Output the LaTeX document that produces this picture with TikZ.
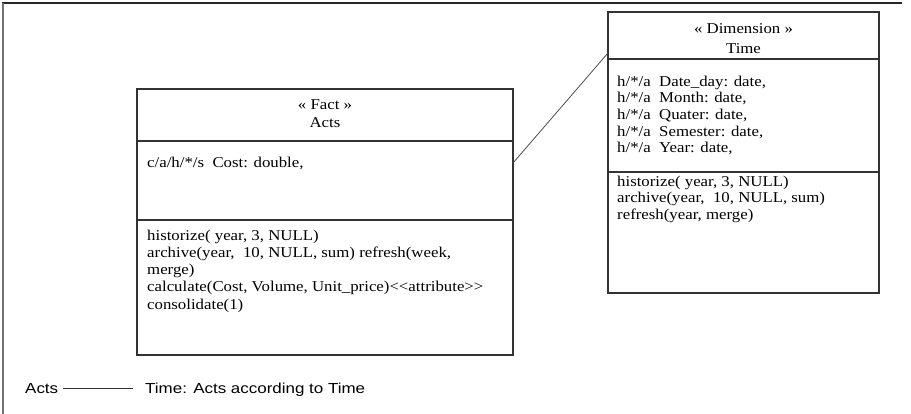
\documentclass[tikz,border=0pt]{standalone}
\usepackage{fontspec}
\setmainfont{Liberation Serif}
\newfontfamily\arialf{Liberation Sans}
\newcommand\sx[1]{\scalebox{1.12}[1]{#1}}
\newcommand\sy[1]{\scalebox{1.17}[1]{#1}}
\begin{document}
\begin{tikzpicture}[x=1pt,y=-1pt,
  boxline/.style={draw=black!80, line width=1.3pt},
  umlbox/.style={boxline, rectangle, inner sep=0pt, outer sep=0pt, anchor=north west},
  txt/.style={anchor=base west, inner sep=0pt, font=\fontsize{15}{18}\selectfont},
  ctxt/.style={anchor=base, inner sep=0pt, font=\fontsize{15}{18}\selectfont},
  stxt/.style={anchor=base west, inner sep=0pt, font=\arialf\fontsize{14.5}{17}\selectfont}]
\useasboundingbox (0,0) rectangle (911,414);
% frame
\coordinate (ftl) at (3,3);
\coordinate (ftr) at (902,3);
\coordinate (fbl) at (3,414);
\draw[black!85, line width=1.5pt] (2,3) -- (ftr);
\draw[black!55, line width=2pt] (ftl) -- (fbl);
% Fact box
\node[umlbox, minimum width=376pt, minimum height=266pt] (fact) at (137,89) {};
\draw[boxline] ([yshift=-52pt]fact.north west) coordinate (fs1a) -- ([yshift=-52pt]fact.north east) coordinate (fs1b);
\draw[boxline] ([yshift=-131pt]fact.north west) coordinate (fs2a) -- ([yshift=-131pt]fact.north east) coordinate (fs2b);
\node[ctxt] (facth1) at (325,110) {\sx{« Fact »}};
\node[ctxt] (facth2) at (325,128) {\sx{Acts}};
\node[txt] (facta1) at (147,168) {\sx{c/a/h/*/s~ Cost: double,}};
\node[txt] (factm1) at (147,241) {\sx{historize( year, 3, NULL)}};
\node[txt] (factm2) at (147,258) {\sx{archive(year,~ 10, NULL, sum) refresh(week,}};
\node[txt] (factm3) at (147,275) {\sx{merge)}};
\node[txt] (factm4) at (147,292) {\sx{calculate(Cost, Volume, Unit\_price)<\kern0pt<attribute>\kern0pt>}};
\node[txt] (factm5) at (147,309) {\sx{consolidate(1)}};
% Time box
\node[umlbox, minimum width=271pt, minimum height=281pt] (time) at (608,12) {};
\draw[boxline] ([yshift=-47pt]time.north west) -- ([yshift=-47pt]time.north east);
\draw[boxline] ([yshift=-160pt]time.north west) -- ([yshift=-160pt]time.north east);
\node[ctxt] (timeh1) at (743.5,34) {\sx{« Dimension »}};
\node[ctxt] (timeh2) at (743.5,54) {\sx{Time}};
\node[txt] (timea1) at (617,87) {\sx{h/*/a~ Date\_day: date,}};
\node[txt] (timea2) at (617,103) {\sx{h/*/a~ Month: date,}};
\node[txt] (timea3) at (617,120) {\sx{h/*/a~ Quater: date,}};
\node[txt] (timea4) at (617,137) {\sx{h/*/a~ Semester: date,}};
\node[txt] (timea5) at (617,153) {\sx{h/*/a~ Year: date,}};
\node[txt] (timem1) at (617,187) {\sx{historize( year, 3, NULL)}};
\node[txt] (timem2) at (617,203) {\sx{archive(year,~ 10, NULL, sum)}};
\node[txt] (timem3) at (617,220) {\sx{refresh(year, merge)}};
% connector
\coordinate (ca) at ([yshift=-74pt]fact.north east);
\coordinate (cb) at ([yshift=-41pt]time.north west);
\draw[black!70, line width=0.8pt] (ca) -- (cb);
% legend
\node[stxt] (lacts) at (25,393) {\sy{Acts}};
\coordinate (la) at (63,388.5);
\coordinate (lb) at (133,388.5);
\draw[black!80, line width=0.8pt] (la) -- (lb);
\node[stxt] (ltime) at (145,393) {\sy{Time: Acts according to Time}};
\end{tikzpicture}
\end{document}
